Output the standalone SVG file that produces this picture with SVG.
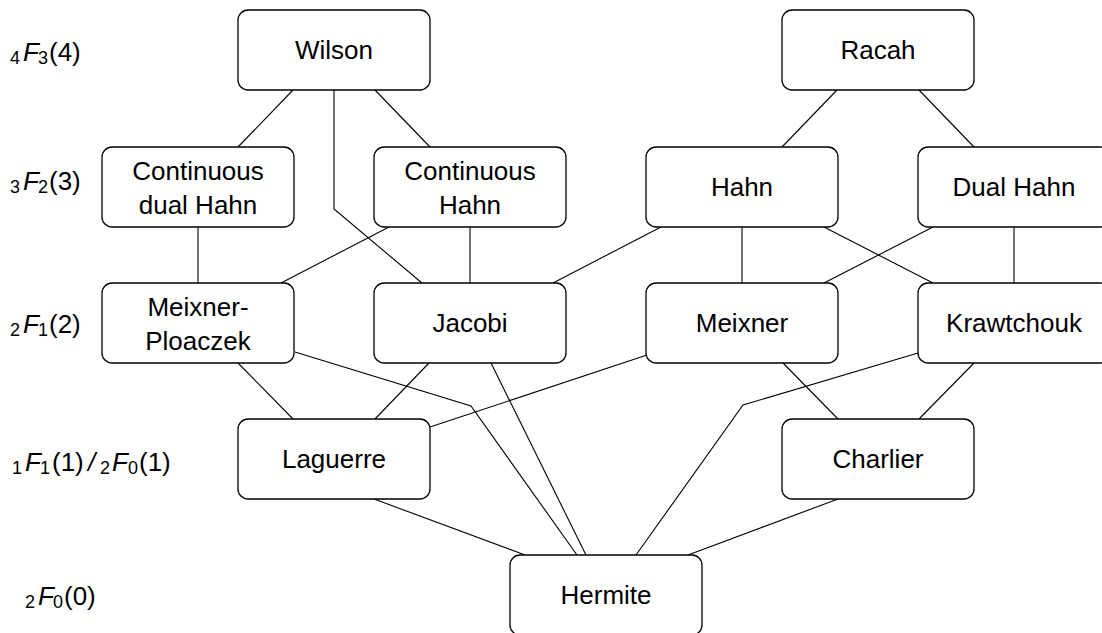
<svg xmlns="http://www.w3.org/2000/svg" width="1102" height="633" viewBox="0 0 1102 633">
<style>
.box{fill:#fff;stroke:#000;stroke-width:1.3}
.t{font-family:"Liberation Sans",Arial,Helvetica,sans-serif;font-size:26px;fill:#000;text-anchor:middle}
.l{font-family:"Liberation Sans",Arial,Helvetica,sans-serif;font-size:26px;fill:#000}
.s{font-size:18px}
.i{font-style:italic}
.e{fill:none;stroke:#000;stroke-width:1.1}
</style>
<rect width="1102" height="633" fill="#fff"/>
<g id="connectors">
<polyline class="e" points="293,90 238,147"/>
<polyline class="e" points="375,90 430,147"/>
<polyline class="e" points="334,90 334,209 422,283"/>
<polyline class="e" points="198,227 198,283"/>
<polyline class="e" points="389,227 281,283"/>
<polyline class="e" points="470,227 470,283"/>
<polyline class="e" points="661,227 553,283"/>
<polyline class="e" points="742,227 742,283"/>
<polyline class="e" points="824,227 933,283"/>
<polyline class="e" points="933,227 824,283"/>
<polyline class="e" points="1014,227 1014,283"/>
<polyline class="e" points="837,90 782,147"/>
<polyline class="e" points="919,90 974,147"/>
<polyline class="e" points="238,363 293,419"/>
<polyline class="e" points="429,363 375,419"/>
<polyline class="e" points="647,355 430,427"/>
<polyline class="e" points="295,352 471,406 577,555"/>
<polyline class="e" points="491,363 586,555"/>
<polyline class="e" points="918,353 743,405 636,555"/>
<polyline class="e" points="783,363 838,419"/>
<polyline class="e" points="974,363 919,419"/>
<polyline class="e" points="374,499 525,555"/>
<polyline class="e" points="838,499 688,555"/>
</g>
<g id="wilson"><rect class="box" x="238" y="10" width="192" height="80" rx="10"/><text class="t" x="334" y="59">Wilson</text></g>
<g id="racah"><rect class="box" x="782" y="10" width="192" height="80" rx="10"/><text class="t" x="878" y="59">Racah</text></g>
<g id="cont-dual-hahn"><rect class="box" x="102" y="147" width="192" height="80" rx="10"/><text class="t" x="198" y="180">Continuous</text><text class="t" x="198" y="214">dual Hahn</text></g>
<g id="cont-hahn"><rect class="box" x="374" y="147" width="192" height="80" rx="10"/><text class="t" x="470" y="180">Continuous</text><text class="t" x="470" y="214">Hahn</text></g>
<g id="hahn"><rect class="box" x="646" y="147" width="192" height="80" rx="10"/><text class="t" x="742" y="196">Hahn</text></g>
<g id="dual-hahn"><rect class="box" x="918" y="147" width="192" height="80" rx="10"/><text class="t" x="1014" y="196">Dual Hahn</text></g>
<g id="meixner-pollaczek"><rect class="box" x="102" y="283" width="192" height="80" rx="10"/><text class="t" x="198" y="316">Meixner-</text><text class="t" x="198" y="350">Ploaczek</text></g>
<g id="jacobi"><rect class="box" x="374" y="283" width="192" height="80" rx="10"/><text class="t" x="470" y="332">Jacobi</text></g>
<g id="meixner"><rect class="box" x="646" y="283" width="192" height="80" rx="10"/><text class="t" x="742" y="332">Meixner</text></g>
<g id="krawtchouk"><rect class="box" x="918" y="283" width="192" height="80" rx="10"/><text class="t" x="1014" y="332">Krawtchouk</text></g>
<g id="laguerre"><rect class="box" x="238" y="419" width="192" height="80" rx="10"/><text class="t" x="334" y="468">Laguerre</text></g>
<g id="charlier"><rect class="box" x="782" y="419" width="192" height="80" rx="10"/><text class="t" x="878" y="468">Charlier</text></g>
<g id="hermite"><rect class="box" x="510" y="555" width="192" height="80" rx="10"/><text class="t" x="606" y="604">Hermite</text></g>
<g id="level-labels">
<text class="l" x="10" y="61"><tspan class="s" dy="3">4</tspan><tspan class="i" x="23" dy="-3">F</tspan><tspan class="s" x="38" dy="3">3</tspan><tspan x="49" dy="-3">(4)</tspan></text>
<text class="l" x="10" y="190"><tspan class="s" dy="3">3</tspan><tspan class="i" x="23" dy="-3">F</tspan><tspan class="s" x="38" dy="3">2</tspan><tspan x="49" dy="-3">(3)</tspan></text>
<text class="l" x="10" y="333"><tspan class="s" dy="3">2</tspan><tspan class="i" x="23" dy="-3">F</tspan><tspan class="s" x="38" dy="3">1</tspan><tspan x="49" dy="-3">(2)</tspan></text>
<text class="l" x="12" y="471"><tspan class="s" dy="3">1</tspan><tspan class="i" x="25" dy="-3">F</tspan><tspan class="s" x="40" dy="3">1</tspan><tspan x="52" dy="-3">(1)</tspan><tspan class="i" x="88">/</tspan><tspan class="s" x="100" dy="3">2</tspan><tspan class="i" x="112" dy="-3">F</tspan><tspan class="s" x="128" dy="3">0</tspan><tspan x="139" dy="-3">(1)</tspan></text>
<text class="l" x="25" y="605"><tspan class="s" dy="3">2</tspan><tspan class="i" x="38" dy="-3">F</tspan><tspan class="s" x="53" dy="3">0</tspan><tspan x="64" dy="-3">(0)</tspan></text>
</g>
</svg>
